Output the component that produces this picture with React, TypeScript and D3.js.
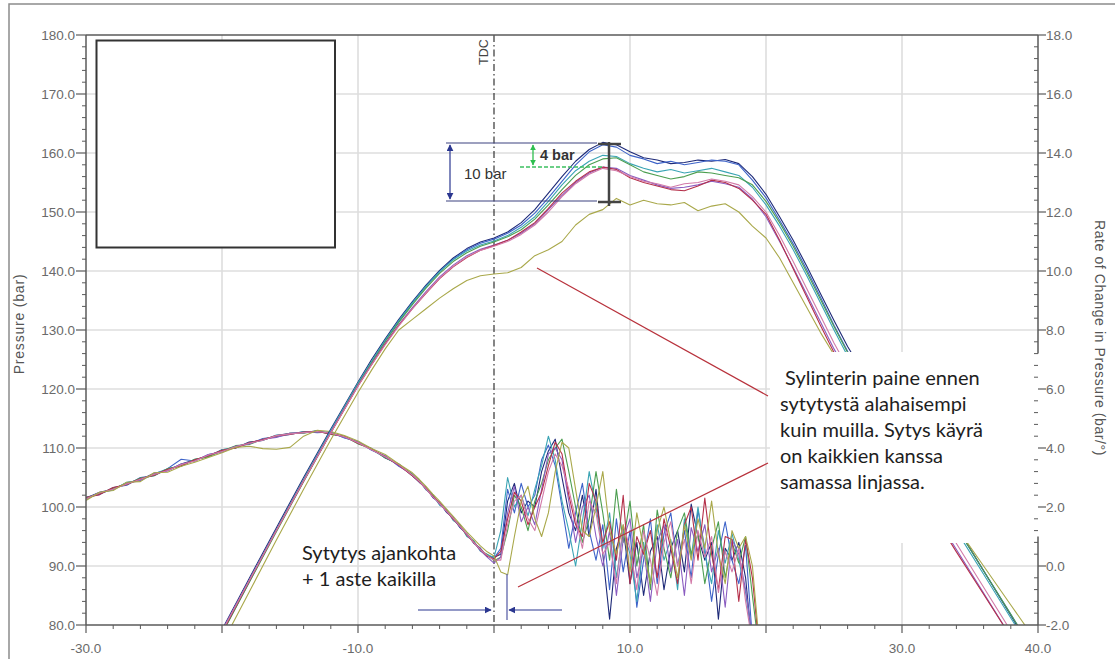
import React from "react";
import * as d3 from "d3";

// crank angle grid (deg) for the pressure traces
const pressureDeg = [
  -22, -20, -18, -16, -14, -12, -10,
  -9, -8, -7, -6, -5, -4, -3, -2, -1, 0,
  1, 2, 3, 4, 5, 6, 7, 8, 9, 10,
  11, 12, 13, 14, 15, 16, 17, 18, 19, 20,
  21, 22, 23, 24, 25, 26,
  28, 30, 32, 34, 36, 38, 40,
];

// cylinder pressure, bar
const pNavy = [
  70.6, 79.2, 87.9, 96.5, 105.0, 113.2, 121.2,
  125.0, 128.5, 131.8, 134.8, 137.6, 140.1, 142.2, 143.8, 144.9, 145.6,
  146.6, 148.2, 150.4, 153.2, 156.0, 158.6, 160.6, 161.8, 161.4, 160.2,
  159.2, 158.8, 158.2, 158.4, 158.8, 158.6, 158.9, 158.2, 156.0, 153.0,
  149.2, 145.2, 140.8, 136.2, 131.6, 127.2,
  119.6, 112.0, 104.4, 96.8, 89.2, 81.6, 74.0,
];
const pBlue = [
  70.0, 78.6, 87.3, 96.0, 104.4, 112.8, 120.9,
  124.6, 128.2, 131.5, 134.6, 137.4, 139.9, 142.0, 143.6, 144.7, 145.4,
  146.4, 147.8, 149.8, 152.4, 155.2, 158.0, 160.2, 161.4, 161.0, 159.6,
  159.0, 158.2, 158.6, 158.0, 158.4, 158.8, 158.6, 158.0, 155.4, 152.4,
  148.6, 144.6, 140.2, 135.6, 130.8, 126.4,
  118.8, 111.4, 104.0, 96.6, 89.2, 81.8, 74.4,
];
const pTeal = [
  70.2, 78.9, 87.6, 96.2, 104.7, 113.0, 121.0,
  124.7, 128.3, 131.6, 134.6, 137.4, 139.9, 141.9, 143.4, 144.4, 145.1,
  146.0, 147.4, 149.2, 151.8, 154.6, 157.0, 158.6, 159.6, 159.4, 158.2,
  157.4, 156.8, 157.2, 156.6, 157.0, 157.4, 156.8, 156.2, 154.2, 151.2,
  147.6, 143.6, 139.2, 134.6, 130.0, 125.6,
  118.2, 110.8, 103.4, 96.0, 88.6, 81.2, 73.8,
];
const pGreen = [
  69.8, 78.5, 87.2, 95.8, 104.3, 112.6, 120.7,
  124.4, 128.0, 131.3, 134.3, 137.1, 139.6, 141.6, 143.1, 144.2, 144.9,
  145.8, 147.0, 148.8, 151.2, 153.8, 156.2, 158.0, 159.0, 159.2, 158.0,
  156.8, 156.2, 155.6, 156.0, 156.8, 156.6, 156.2, 155.8, 154.6, 151.8,
  148.2, 144.2, 139.8, 135.2, 130.6, 126.2,
  118.8, 111.4, 104.0, 96.6, 89.2, 81.8, 74.4,
];
const pPurple = [
  70.4, 79.0, 87.6, 96.1, 104.5, 112.7, 120.6,
  124.2, 127.7, 130.9, 133.8, 136.5, 139.0, 141.0, 142.6, 143.7, 144.4,
  145.2, 146.4, 148.0, 150.4, 152.8, 155.0, 156.6, 157.6, 157.4, 156.2,
  155.4, 154.6, 154.0, 154.2, 154.6, 155.2, 154.8, 154.2, 152.2, 149.2,
  145.0, 140.6, 136.0, 131.4, 126.8, 122.6,
  115.0, 107.6, 100.2, 92.8, 85.4, 78.0, 70.6,
];
const pRed = [
  70.0, 78.7, 87.4, 96.0, 104.4, 112.6, 120.5,
  124.1, 127.6, 130.8, 133.6, 136.2, 138.7, 140.7, 142.3, 143.5, 144.3,
  145.2, 146.6, 148.2, 150.6, 153.2, 155.2, 156.8, 157.6, 157.2, 155.8,
  155.0, 154.4, 153.8, 153.6, 154.4, 155.4, 155.0, 154.0, 152.0, 149.6,
  145.2, 140.4, 135.6, 130.8, 126.2, 122.0,
  114.6, 107.2, 99.8, 92.4, 85.2, 78.0, 70.8,
];
const pPink = [
  70.3, 78.9, 87.5, 96.0, 104.4, 112.6, 120.5,
  124.1, 127.5, 130.7, 133.6, 136.3, 138.8, 140.8, 142.4, 143.5, 144.2,
  145.0, 146.2, 147.8, 150.0, 152.6, 154.8, 156.4, 157.4, 157.0, 156.0,
  155.2, 154.8, 154.2, 154.8, 155.0, 155.6, 155.2, 154.6, 152.6, 150.0,
  146.0, 141.6, 137.0, 132.4, 127.8, 123.6,
  116.0, 108.6, 101.2, 93.8, 86.4, 79.0, 71.6,
];
const pOlive = [
  68.0, 76.8, 85.6, 94.4, 103.0, 111.4, 119.4,
  123.2, 126.8, 130.0, 131.8, 133.6, 135.4, 137.0, 138.4, 139.2, 139.5,
  139.7, 140.6, 142.6, 143.6, 145.0, 147.8, 149.6, 150.4, 152.3, 151.2,
  152.0, 151.4, 151.2, 151.6, 150.2, 151.0, 151.4, 150.0, 147.6, 145.6,
  142.2, 138.0, 133.8, 129.6, 125.8, 122.4,
  115.8, 109.4, 103.0, 96.6, 90.0, 83.4, 76.8,
];

// crank angle grid (deg) for the rate-of-change traces
const rateDeg = [
  -30, -29, -28, -27, -26, -25, -24, -23, -22, -21, -20, -19, -18, -17, -16,
  -15, -14, -13, -12, -11, -10, -9, -8, -7, -6,
  -5.5, -5, -4.5, -4, -3.5, -3, -2.5, -2, -1.5, -1, -0.5, 0,
  0.5, 1, 1.5, 2, 2.5, 3, 3.5, 4, 4.5, 5, 5.5, 6, 6.5, 7, 7.5, 8, 8.5, 9, 9.5, 10,
  10.5, 11, 11.5, 12, 12.5, 13, 13.5, 14, 14.5, 15, 15.5, 16, 16.5, 17, 17.5, 18,
  18.5, 19, 19.5, 20,
];

// rate of change in pressure, bar/deg
const rNavy = [
  2.30, 2.50, 2.60, 2.82, 2.92, 3.14, 3.24, 3.46, 3.60, 3.72, 3.94, 4.00, 4.20, 4.26, 4.42,
  4.50, 4.52, 4.58, 4.48, 4.40, 4.16, 3.98, 3.66, 3.46, 3.06,
  2.84, 2.66, 2.32, 2.16, 1.82, 1.64, 1.30, 1.10, 0.78, 0.60, 0.32, 0.30,
  0.4, 2.2, 2.8, 1.8, 2.2, 2.0, 3.2, 3.9, 4.3, 3.0, 1.8, 1.2, 2.4, 1.0, 2.6, 0.4, -1.8, 0.6, 1.3, -0.6,
  0.8, -1.0, 0.5, 1.0, -0.8, 0.6, 1.2, -0.2, 2.1, 1.0, 0.2, 0.8, -1.8, 0.6, 0.2, 0.8,
  -0.4, -2.8, -3.0, -3.0,
];
const rBlue = [
  2.34, 2.42, 2.66, 2.74, 3.00, 3.06, 3.30, 3.62, 3.56, 3.78, 3.88, 4.06, 4.14, 4.32, 4.38,
  4.46, 4.56, 4.52, 4.54, 4.34, 4.22, 3.92, 3.74, 3.38, 3.12,
  2.86, 2.64, 2.34, 2.14, 1.84, 1.62, 1.32, 1.08, 0.80, 0.58, 0.34, 0.26,
  0.6, 2.6, 1.8, 2.8, 2.0, 2.4, 3.6, 4.1, 3.4, 2.0, 0.6, 1.8, 2.8, 1.2, 0.2, 1.4, -0.8, 1.6, -0.2, 1.2,
  -1.4, 0.2, 1.6, -0.6, 1.1, 1.8, 0.0, 1.2, -0.4, 1.9, 0.6, -1.2, 0.4, 1.5, 0.2, -0.6,
  0.7, -2.5, -3.0, -3.0,
];
const rTeal = [
  2.26, 2.48, 2.58, 2.84, 2.90, 3.12, 3.30, 3.40, 3.62, 3.70, 3.94, 4.02, 4.18, 4.26, 4.44,
  4.46, 4.56, 4.54, 4.52, 4.36, 4.20, 3.94, 3.68, 3.44, 3.06,
  2.92, 2.58, 2.42, 2.06, 1.92, 1.54, 1.40, 1.00, 0.86, 0.50, 0.40, 0.28,
  1.2, 3.0, 2.0, 2.4, 1.7, 2.6, 3.4, 4.4, 3.6, 2.2, 1.2, 0.0, 1.5, 3.2, 2.0, 0.6, 1.8, -0.4, 1.2, 0.4,
  -1.2, 0.8, -0.6, 1.4, 0.2, 0.9, -0.8, 1.6, 0.3, 2.0, 0.4, -0.6, 1.2, 0.1, 1.1, 0.2,
  -0.9, -2.6, -3.0, -3.0,
];
const rGreen = [
  2.32, 2.44, 2.64, 2.76, 2.98, 3.06, 3.30, 3.38, 3.62, 3.70, 3.90, 4.08, 4.12, 4.30, 4.38,
  4.50, 4.50, 4.58, 4.46, 4.40, 4.14, 3.98, 3.68, 3.44, 3.10,
  2.90, 2.60, 2.40, 2.10, 1.90, 1.58, 1.38, 1.04, 0.84, 0.54, 0.38, 0.18,
  0.3, 1.2, 2.4, 2.0, 1.2, 2.2, 2.8, 3.6, 4.0, 4.3, 3.2, 2.0, 0.8, 1.6, 3.2, 1.8, 0.2, 2.6, 0.8, 2.2,
  0.0, 1.4, -0.8, 1.9, 0.6, -0.4, 1.2, 1.8, 0.4, 1.1, -0.6, 0.6, 1.5, -0.4, 0.8, 0.1,
  1.0, -1.0, -2.9, -3.0,
];
const rPurple = [
  2.28, 2.46, 2.60, 2.80, 2.90, 3.14, 3.22, 3.46, 3.56, 3.78, 3.86, 4.06, 4.14, 4.30, 4.36,
  4.50, 4.52, 4.56, 4.50, 4.36, 4.20, 3.94, 3.72, 3.40, 3.08,
  2.88, 2.60, 2.38, 2.10, 1.88, 1.58, 1.36, 1.05, 0.82, 0.52, 0.30, 0.10,
  0.3, 1.8, 2.7, 1.5, 2.0, 1.4, 2.6, 3.8, 4.0, 3.6, 2.2, 0.8, 2.0, 2.4, 1.0, 0.0, 1.2, -1.0, 0.9, 1.6,
  -0.4, 0.6, -1.2, 0.8, 1.4, -0.2, 0.9, -1.0, 1.3, 0.5, 1.4, -0.2, 0.6, -1.4, 0.9, 0.4,
  -0.8, -2.4, -3.0, -3.0,
];
const rRed = [
  2.32, 2.42, 2.66, 2.76, 2.96, 3.08, 3.28, 3.40, 3.60, 3.74, 3.92, 4.00, 4.18, 4.28, 4.42,
  4.46, 4.54, 4.56, 4.48, 4.40, 4.16, 3.96, 3.70, 3.42, 3.06,
  2.86, 2.64, 2.36, 2.14, 1.86, 1.60, 1.34, 1.06, 0.80, 0.56, 0.34, 0.24,
  0.5, 1.6, 2.5, 2.2, 1.4, 2.0, 2.5, 3.4, 4.2, 3.8, 2.4, 1.4, 1.0, 2.8, 2.2, 0.8, 1.5, 0.2, 2.4, -0.6,
  1.0, 0.4, 1.2, -0.4, 1.6, 0.6, -0.6, 1.4, 2.0, 0.2, 2.3, 0.4, -0.8, 1.0, 0.9, -1.2,
  0.9, -0.4, -2.8, -3.0,
];
const rPink = [
  2.28, 2.48, 2.60, 2.78, 2.94, 3.10, 3.24, 3.44, 3.56, 3.76, 3.88, 4.04, 4.16, 4.26, 4.42,
  4.48, 4.52, 4.56, 4.50, 4.38, 4.18, 3.94, 3.70, 3.44, 3.08,
  2.88, 2.62, 2.34, 2.12, 1.86, 1.62, 1.34, 1.08, 0.80, 0.56, 0.36, 0.20,
  0.2, 1.4, 2.2, 2.4, 1.6, 1.2, 2.2, 3.2, 3.8, 3.4, 2.6, 1.6, 0.6, 2.2, 1.8, 0.4, 0.8, -0.6, 1.4, 0.6,
  -0.8, 1.2, 0.2, -1.0, 0.8, 1.5, 0.0, 0.9, -0.6, 1.2, 0.3, 1.0, -0.9, 0.5, -0.2, 0.6,
  -1.2, -2.6, -3.0, -3.0,
];
const rOlive = [
  2.22, 2.50, 2.56, 2.84, 2.86, 3.16, 3.18, 3.38, 3.52, 3.68, 3.84, 4.02, 4.06, 3.98, 3.96,
  4.02, 4.40, 4.60, 4.56, 4.42, 4.24, 3.98, 3.78, 3.46, 3.16,
  2.94, 2.70, 2.44, 2.20, 1.94, 1.68, 1.42, 1.16, 0.92, 0.68, 0.48, 0.34,
  -0.2, -0.3, 1.0, 2.2, 2.7, 1.6, 1.0, 1.8, 3.2, 4.2, 4.0, 2.6, 1.2, 1.0, 2.0, 3.2, 1.2, 0.4, 1.4, -0.2,
  1.8, 0.6, -0.6, 1.2, 2.0, 0.8, -0.4, 1.4, 0.2, 1.6, 0.6, 2.2, 0.4, -0.6, 1.2, 0.6,
  1.0, 0.0, -2.6, -3.0,
];

const traceColors = ["#1e2a78", "#3d63c9", "#3aa4b4", "#4c9e50", "#8a5cc0", "#b5304a", "#d27aa8", "#a9a84a"];
const pressureSeries = [pNavy, pBlue, pTeal, pGreen, pPurple, pRed, pPink, pOlive];
const rateSeries = [rNavy, rBlue, rTeal, rGreen, rPurple, rRed, rPink, rOlive];

const leftTicks = [80, 90, 100, 110, 120, 130, 140, 150, 160, 170, 180];
const rightTicks = [-2, 0, 2, 4, 6, 8, 10, 12, 14, 16, 18];
const xTicks = [-30, -20, -10, 0, 10, 20, 30, 40];
const xLabels = [-30, -10, 10, 30, 40];
const xGrid = [-20, -10, 10, 20, 30];
const yGrid = [90, 100, 110, 120, 130, 140, 150, 160, 170];

const noteLines = [" Sylinterin paine ennen", "sytytystä alahaisempi", "kuin muilla. Sytys käyrä", "on kaikkien kanssa", "samassa linjassa."];
const ignitionLines = ["Sytytys ajankohta", "+ 1 aste kaikilla"];

const W = 1115;
const H = 659;
const L = 86, R = 1038, T = 35, B = 625;

const x = d3.scaleLinear().domain([-30, 40]).range([L, R]);
const yL = d3.scaleLinear().domain([80, 180]).range([B, T]);
const yR = d3.scaleLinear().domain([-2, 18]).range([B, T]);

export default function App() {
  const pLine = d3.line<number>().x((_, i) => x(pressureDeg[i])).y((d) => yL(d));
  const rLine = d3.line<number>().x((_, i) => x(rateDeg[i])).y((d) => yR(d));

  const leftMinor = d3.range(80, 181, 2).filter((v) => v % 10 !== 0);
  const rightMinor = d3.range(-2, 18.01, 0.4).filter((v) => Math.abs(v / 2 - Math.round(v / 2)) > 0.01);
  const xMinor = d3.range(-30, 41, 2).filter((v) => v % 10 !== 0);

  const sans = "'Liberation Sans', Arial, sans-serif";
  const tickFont = { fontFamily: sans, fontSize: 13.5, fill: "#6a6a6a" };
  const axisCol = "#5a5a5a";
  const navy = "#2b3790";

  return (
    <svg width={W} height={H} style={{ position: "absolute", left: 0, top: 0, background: "#fff" }}>
      <defs>
        <clipPath id="plotClip">
          <rect x={L} y={T} width={R - L} height={B - T} />
        </clipPath>
        <marker id="headNavy" viewBox="0 0 10 10" refX="9" refY="5" markerWidth="7" markerHeight="7" orient="auto-start-reverse" markerUnits="userSpaceOnUse">
          <path d="M0,0 L10,5 L0,10 Z" fill={navy} />
        </marker>
        <marker id="headGreen" viewBox="0 0 10 10" refX="9" refY="5" markerWidth="6" markerHeight="6" orient="auto-start-reverse" markerUnits="userSpaceOnUse">
          <path d="M0,0 L10,5 L0,10 Z" fill="#2fbf4f" />
        </marker>
      </defs>
      <rect width={W} height={H} fill="#fff" />
      <rect x={9} y={4} width={1200} height={800} fill="none" stroke="#8c8c8c" strokeWidth={1.5} />

      {/* grid */}
      {yGrid.map((v) => (
        <line key={"gy" + v} x1={L} x2={R} y1={yL(v)} y2={yL(v)} stroke="#dedede" strokeWidth={1.6} />
      ))}
      {xGrid.map((v) => (
        <line key={"gx" + v} x1={x(v)} x2={x(v)} y1={T} y2={B} stroke="#dedede" strokeWidth={1.6} />
      ))}

      {/* TDC */}
      <line x1={x(0)} x2={x(0)} y1={T} y2={B} stroke="#222" strokeWidth={1.1} strokeDasharray="7,3,1.5,3" />
      <text transform={`translate(${x(0) - 6},${T + 30}) rotate(-90)`} fontFamily={sans} fontSize={12.5} fill="#444">TDC</text>

      <g clipPath="url(#plotClip)" fill="none" strokeWidth={1.1}>
        {rateSeries.map((s, i) => (
          <path key={"r" + i} d={rLine(s) || ""} stroke={traceColors[i]} strokeLinejoin="round" />
        ))}
        {pressureSeries.map((s, i) => (
          <path key={"p" + i} d={pLine(s) || ""} stroke={traceColors[i]} strokeLinejoin="round" />
        ))}
      </g>

      {/* empty legend frame */}
      <rect x={96.5} y={40.5} width={238.5} height={207} fill="#fff" stroke="#333" strokeWidth={2} />

      {/* pasted note box */}
      <rect x={770} y={352} width={266} height={191} fill="#fff" />
      <rect x={1030} y={352} width={9.5} height={158} fill="#fff" />

      {/* axes */}
      <line x1={L} x2={R} y1={T} y2={T} stroke={axisCol} strokeWidth={1.5} />
      <line x1={L} x2={L} y1={T} y2={B} stroke={axisCol} strokeWidth={1.5} />
      <line x1={L} x2={R} y1={B} y2={B} stroke={axisCol} strokeWidth={1.5} />
      <line x1={R} x2={R} y1={T} y2={yR(7.2)} stroke={axisCol} strokeWidth={1.5} />
      <line x1={R} x2={R} y1={yR(1.0)} y2={B} stroke={axisCol} strokeWidth={1.5} />

      {leftTicks.map((v) => (
        <g key={"lt" + v}>
          <line x1={L - 10} x2={L} y1={yL(v)} y2={yL(v)} stroke={axisCol} strokeWidth={1.2} />
          <text x={L - 11} y={yL(v) + 5} textAnchor="end" {...tickFont}>{v.toFixed(1)}</text>
        </g>
      ))}
      {leftMinor.map((v) => (
        <line key={"lm" + v} x1={L - 4} x2={L} y1={yL(v)} y2={yL(v)} stroke={axisCol} strokeWidth={1} />
      ))}
      {rightTicks.map((v) => (
        <g key={"rt" + v}>
          <line x1={R} x2={R + 8} y1={yR(v)} y2={yR(v)} stroke={axisCol} strokeWidth={1.2} />
          <text x={R + 8} y={yR(v) + 5} {...tickFont}>{v.toFixed(1)}</text>
        </g>
      ))}
      {rightMinor.map((v) => (
        <line key={"rm" + v.toFixed(1)} x1={R - 4} x2={R} y1={yR(v)} y2={yR(v)} stroke={axisCol} strokeWidth={1} />
      ))}
      {xTicks.map((v) => (
        <line key={"xt" + v} x1={x(v)} x2={x(v)} y1={B} y2={B + 8} stroke={axisCol} strokeWidth={1.2} />
      ))}
      {xMinor.map((v) => (
        <line key={"xm" + v} x1={x(v)} x2={x(v)} y1={B} y2={B + 4} stroke={axisCol} strokeWidth={1} />
      ))}
      {xLabels.map((v) => (
        <text key={"xl" + v} x={x(v)} y={B + 28} textAnchor="middle" {...tickFont}>{v.toFixed(1)}</text>
      ))}

      <text transform="translate(24,324) rotate(-90)" textAnchor="middle" fontFamily={sans} fontSize={14} letterSpacing={0.8} fill="#555">Pressure (bar)</text>
      <text transform="translate(1095,338) rotate(90)" textAnchor="middle" fontFamily={sans} fontSize={14} letterSpacing={0.6} fill="#555">Rate of Change in Pressure (bar/°)</text>

      {/* 10 bar / 4 bar annotation */}
      <line x1={446} x2={597} y1={143} y2={143} stroke="#3d4380" strokeWidth={1.2} />
      <line x1={446} x2={597} y1={201} y2={201} stroke="#3d4380" strokeWidth={1.2} />
      <line x1={450} x2={450} y1={145} y2={199} stroke={navy} strokeWidth={1.2} markerStart="url(#headNavy)" markerEnd="url(#headNavy)" />
      <text x={464} y={179} fontFamily={sans} fontSize={15} fill="#333">10 bar</text>
      <line x1={520} x2={602} y1={167} y2={167} stroke="#3cc060" strokeWidth={1.6} strokeDasharray="4,2" />
      <line x1={533} x2={533} y1={145} y2={165} stroke="#2fbf4f" strokeWidth={1.3} markerStart="url(#headGreen)" markerEnd="url(#headGreen)" />
      <text x={540} y={160} fontFamily={sans} fontSize={14.5} fontWeight="bold" fill="#333">4 bar</text>
      <line x1={609} x2={609} y1={142} y2={206} stroke="#444" strokeWidth={2.5} />
      <line x1={598} x2={621} y1={144} y2={144} stroke="#444" strokeWidth={2.5} />
      <line x1={598} x2={621} y1={202} y2={202} stroke="#444" strokeWidth={2.5} />

      {/* pointer lines */}
      <line x1={537} y1={268} x2={768} y2={396} stroke="#b8323c" strokeWidth={1.2} />
      <line x1={518} y1={587} x2={768} y2={463} stroke="#b8323c" strokeWidth={1.2} />

      {/* ignition shift arrows */}
      <line x1={418} x2={491} y1={610} y2={610} stroke={navy} strokeWidth={1.2} markerEnd="url(#headNavy)" />
      <line x1={562} x2={509} y1={610} y2={610} stroke={navy} strokeWidth={1.2} markerEnd="url(#headNavy)" />
      <line x1={507} x2={507} y1={574} y2={620} stroke="#6a70b0" strokeWidth={1.4} />

      {noteLines.map((s, i) => (
        <text key={"n" + i} x={780} y={385 + i * 26} fontFamily="Lato, 'Open Sans', sans-serif" fontSize={20} fill="#1e1e1e" style={{ whiteSpace: "pre" }}>{s}</text>
      ))}
      {ignitionLines.map((s, i) => (
        <text key={"ig" + i} x={302} y={560 + i * 26} fontFamily="Lato, 'Open Sans', sans-serif" fontSize={20} fill="#1e1e1e">{s}</text>
      ))}
    </svg>
  );
}
